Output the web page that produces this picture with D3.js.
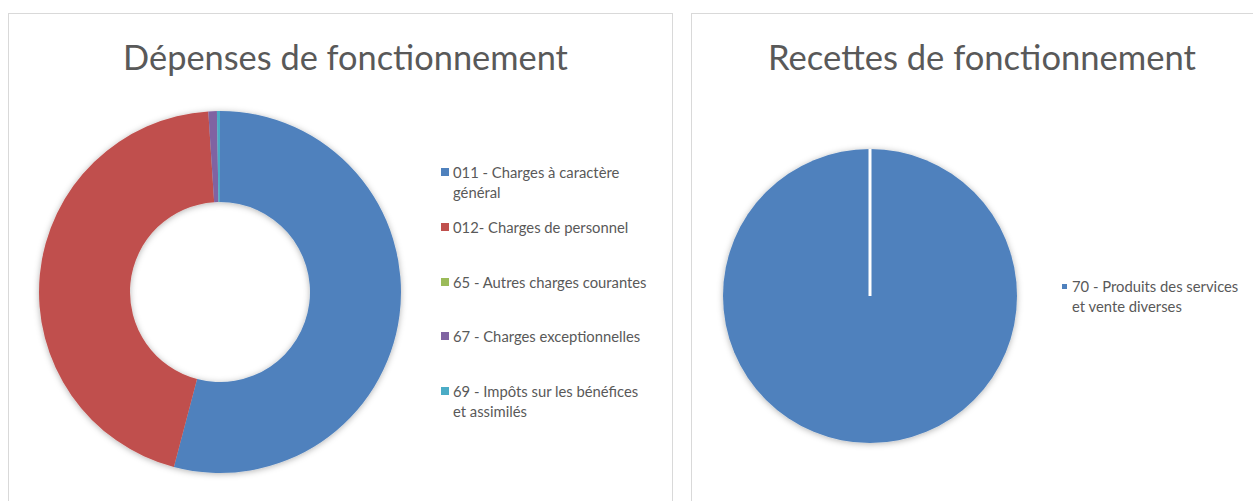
<!DOCTYPE html>
<html><head><meta charset="utf-8">
<script src="https://cdn.jsdelivr.net/npm/d3@7"></script>
<style>
html,body{margin:0;padding:0;background:#fff;}
svg{display:block;}
text{font-family:"Lato","Open Sans",sans-serif;fill:#595959;}
</style></head><body>
<svg id="chart" width="1253" height="501"></svg>
<script>
// ---- data ----
const depTitle = "Dépenses de fonctionnement";
const depCategories = [
  "011 - Charges à caractère\ngénéral",
  "012- Charges de personnel",
  "65 - Autres charges courantes",
  "67 - Charges exceptionnelles",
  "69 - Impôts sur les bénéfices\net assimilés"
];
const depValues = [54.1, 44.87, 0, 0.76, 0.27];
const depColors = ["#4F81BD", "#C0504D", "#9BBB59", "#8064A2", "#4BACC6"];

const recTitle = "Recettes de fonctionnement";
const recCategories = ["70 - Produits des services\net vente diverses"];
const recValues = [100];
const recColors = ["#4F81BD"];

// ---- layout ----
const svg = d3.select("#chart");
const defs = svg.append("defs");
const f = defs.append("filter").attr("id","shadow").attr("x","-20%").attr("y","-20%").attr("width","140%").attr("height","140%");
f.append("feDropShadow").attr("dx",0).attr("dy",1).attr("stdDeviation",3).attr("flood-color","#000").attr("flood-opacity",0.3);

// panel borders
svg.append("rect").attr("x",8.5).attr("y",13.5).attr("width",664).attr("height",500)
  .attr("fill","none").attr("stroke","#d9d9d9").attr("stroke-width",1);
svg.append("rect").attr("x",691.5).attr("y",13.5).attr("width",600).attr("height",500)
  .attr("fill","none").attr("stroke","#d9d9d9").attr("stroke-width",1);

function fitTitle(sel, target){
  const w = sel.node().getComputedTextLength();
  const fs = parseFloat(sel.attr("font-size"));
  sel.attr("font-size", fs*target/w);
}

// ---- Dépenses donut ----
const g1 = svg.append("g").attr("transform","translate(220,292)");
const pie = d3.pie().sort(null).value(d=>d);
const arc1 = d3.arc().innerRadius(90).outerRadius(181);
g1.append("g").attr("filter","url(#shadow)")
  .selectAll("path").data(pie(depValues)).join("path")
  .attr("d",arc1).attr("fill",(d,i)=>depColors[i]);

const t1 = svg.append("text").attr("x",345.5).attr("y",70).attr("text-anchor","middle")
  .attr("font-size",36).text(depTitle);
fitTitle(t1, 445);

const legY1 = [178, 233, 288, 342, 397];
const leg1 = svg.append("g");
depCategories.forEach((c,i)=>{
  const gi = leg1.append("g").attr("transform",`translate(441,${legY1[i]})`);
  gi.append("rect").attr("x",0).attr("y",-10).attr("width",8).attr("height",8).attr("fill",depColors[i]);
  const tx = gi.append("text").attr("x",12).attr("y",0).attr("font-size",14.8);
  c.split("\n").forEach((line,j)=>{
    tx.append("tspan").attr("x",12).attr("dy", j===0?0:19.5).text(line);
  });
});

// ---- Recettes pie ----
const g2 = svg.append("g").attr("transform","translate(870,296)");
const arc2 = d3.arc().innerRadius(0).outerRadius(147);
const recPie = pie(recValues);
g2.append("g").attr("filter","url(#shadow)")
  .selectAll("path").data(recPie).join("path")
  .attr("d",arc2).attr("fill",(d,i)=>recColors[i]);
// slice border at the start angle
recPie.forEach(d=>{
  const p0 = d3.pointRadial(d.startAngle, 0), p1 = d3.pointRadial(d.startAngle, 147);
  g2.append("line").attr("x1",p0[0]).attr("y1",p0[1]).attr("x2",p1[0]).attr("y2",p1[1])
    .attr("stroke","#fff").attr("stroke-width",3);
});

const t2 = svg.append("text").attr("x",982).attr("y",70).attr("text-anchor","middle")
  .attr("font-size",36).text(recTitle);
fitTitle(t2, 428);

recCategories.forEach((c,i)=>{
  const gi = svg.append("g").attr("transform",`translate(1062,292)`);
  gi.append("rect").attr("x",0).attr("y",-8).attr("width",5).attr("height",5).attr("fill",recColors[i]);
  const tx = gi.append("text").attr("x",10).attr("y",0).attr("font-size",14.8);
  c.split("\n").forEach((line,j)=>{
    tx.append("tspan").attr("x",10).attr("dy", j===0?0:19.5).text(line);
  });
});
</script>
</body></html>
